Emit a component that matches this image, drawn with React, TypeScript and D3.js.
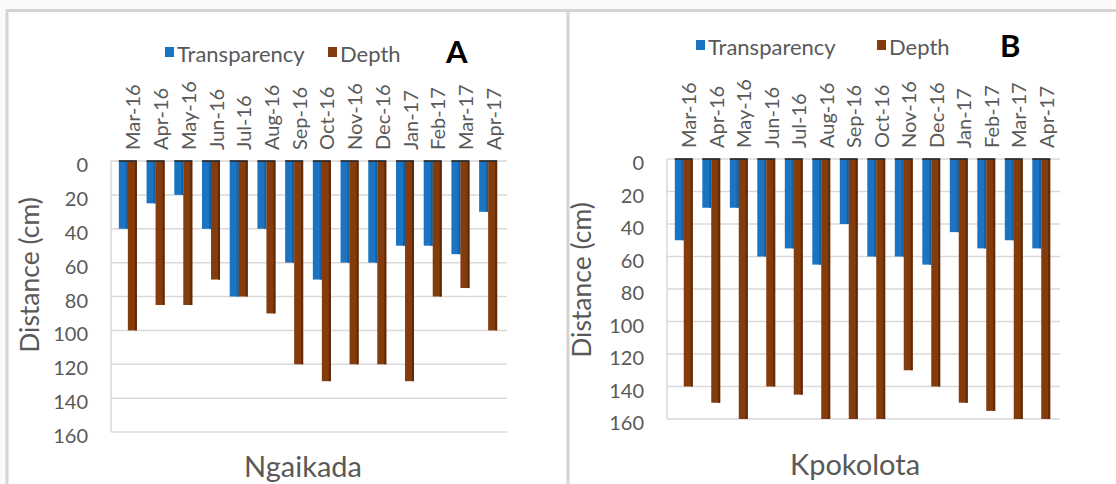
import React from "react";
import * as d3 from "d3";

const months = ["Mar-16","Apr-16","May-16","Jun-16","Jul-16","Aug-16","Sep-16","Oct-16","Nov-16","Dec-16","Jan-17","Feb-17","Mar-17","Apr-17"];
const seriesNames = ["Transparency", "Depth"];
const ngaikadaTransparency = [40,25,20,40,80,40,60,70,60,60,50,50,55,30];
const ngaikadaDepth = [100,85,85,70,80,90,120,130,120,120,130,80,75,100];
const kpokolotaTransparency = [50,30,30,60,55,65,40,60,60,65,45,55,50,55];
const kpokolotaDepth = [140,150,160,140,145,160,160,160,130,140,150,155,160,160];
const yTicks = [0,20,40,60,80,100,120,140,160];

const COLORS = ["#1a74c2", "#843c0c"];
const SIDE = ["#155f9f", "#5e2a08"];
const TXT = "#595959";
const FONT = "Lato, 'Open Sans', sans-serif";

type PanelProps = {
  x0: number; x1: number; y0: number; y1: number;
  transparency: number[]; depth: number[];
  site: string; letter: string;
  legendY: number; legendX: number; depthX: number; letterX: number; letterY: number;
  titleX: number; titleY: number;
  axisTitleX: number; axisTitleY: number;
  labelRight: number; tickBottom: number;
};

function Panel(p: PanelProps) {
  const x = d3.scaleBand<string>().domain(months).range([p.x0, p.x1]).paddingInner(0.35).paddingOuter(0.175);
  const inner = d3.scaleBand<string>().domain(seriesNames).range([0, x.bandwidth()]);
  const y = d3.scaleLinear().domain([0, 160]).range([p.y0, p.y1]);
  const series = [p.transparency, p.depth];
  return (
    <g>
      {yTicks.map((t) => (
        <line key={"g" + t} x1={p.x0 - 3} x2={p.x1 + 5} y1={y(t)} y2={y(t)} stroke="#d9d9d9" strokeWidth={1.5} />
      ))}
      <line x1={p.x0 - 3} x2={p.x0 - 3} y1={y(0)} y2={y(160)} stroke="#d9d9d9" strokeWidth={1.5} />
      {yTicks.map((t) => (
        <text key={"t" + t} x={p.labelRight} y={y(t) + 6} textAnchor="end" dominantBaseline="middle" fontSize={20} fill={TXT} fontFamily={FONT}>{t}</text>
      ))}
      {months.map((m, i) => (
        <g key={m}>
          {series.map((s, k) => {
            const bx = (x(m) as number) + (inner(seriesNames[k]) as number);
            const bw = inner.bandwidth();
            return (
              <g key={k}>
                <rect x={bx} y={y(0)} width={bw} height={y(s[i]) - y(0)} fill={COLORS[k]} />
                <rect x={bx + bw - 2} y={y(0)} width={2} height={y(s[i]) - y(0)} fill={SIDE[k]} />
              </g>
            );
          })}
          <rect x={x(m) as number} y={y(0) - 1} width={x.bandwidth()} height={2} fill="#2a2a2a" opacity={0.85} />
          <text transform={`translate(${(x(m) as number) + x.bandwidth() / 2 + 7.5},${p.tickBottom}) rotate(-90)`} dominantBaseline="middle" fontSize={20} fill={TXT} fontFamily={FONT}>{m}</text>
        </g>
      ))}
      <text transform={`translate(${p.axisTitleX},${p.axisTitleY}) rotate(-90)`} textAnchor="middle" dominantBaseline="middle" fontSize={26.5} fill={TXT} fontFamily={FONT}>Distance (cm)</text>
      <text x={p.titleX} y={p.titleY} textAnchor="middle" fontSize={29} fill={TXT} fontFamily={FONT}>{p.site}</text>
      <rect x={p.legendX} y={p.legendY - 15} width={9} height={10} fill={COLORS[0]} />
      <text x={p.legendX + 12} y={p.legendY} fontSize={22} fill={TXT} fontFamily={FONT}>{seriesNames[0]}</text>
      <rect x={p.depthX} y={p.legendY - 15} width={9} height={10} fill={COLORS[1]} />
      <text x={p.depthX + 12} y={p.legendY} fontSize={22} fill={TXT} fontFamily={FONT}>{seriesNames[1]}</text>
      <text x={p.letterX} y={p.letterY} fontSize={31} fontWeight="bold" fill="#000" fontFamily={FONT}>{p.letter}</text>
    </g>
  );
}

export default function App() {
  return (
    <svg width={1116} height={484} style={{ position: "absolute", left: 0, top: 0, display: "block", background: "#fff" }}>
      <rect x={0} y={0} width={1116} height={484} fill="#fafafa" />
      <rect x={7} y={11} width={1109} height={473} fill="#fff" />
      <line x1={6} x2={1116} y1={10.5} y2={10.5} stroke="#d4d4d4" strokeWidth={3} />
      <line x1={7} x2={7} y1={10} y2={484} stroke="#d4d4d4" strokeWidth={3} />
      <line x1={568} x2={568} y1={10} y2={484} stroke="#d4d4d4" strokeWidth={3} />
      <Panel x0={114} x1={502} y0={161} y1={432} transparency={ngaikadaTransparency} depth={ngaikadaDepth}
        site="Ngaikada" letter="A" legendY={62} legendX={165} depthX={328} letterX={446} letterY={63}
        titleX={303} titleY={477} axisTitleX={32} axisTitleY={275} labelRight={88} tickBottom={150} />
      <Panel x0={670} x1={1055} y0={159} y1={419} transparency={kpokolotaTransparency} depth={kpokolotaDepth}
        site="Kpokolota" letter="B" legendY={55} legendX={696} depthX={877} letterX={1000} letterY={57}
        titleX={855} titleY={475} axisTitleX={584} axisTitleY={280} labelRight={644} tickBottom={148} />
    </svg>
  );
}
